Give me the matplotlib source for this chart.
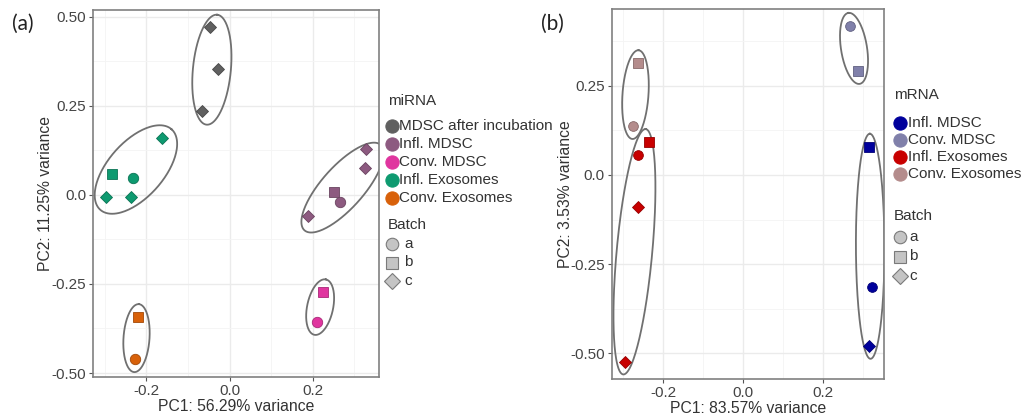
import numpy as np
import matplotlib
matplotlib.use('Agg')
import matplotlib.pyplot as plt
from matplotlib.lines import Line2D

plt.rcParams['font.family'] = ['Liberation Sans', 'DejaVu Sans']

# ---- data (a) miRNA ----
mi_groups = ['MDSC after incubation', 'Infl. MDSC', 'Conv. MDSC', 'Infl. Exosomes', 'Conv. Exosomes']
mi_colors = ['#606060', '#8d5a80', '#e0359f', '#0e9a70', '#d8610a']
mi_group = [0, 0, 0,
            3, 3, 3, 3, 3,
            1, 1, 1, 1, 1,
            2, 2,
            4, 4]
mi_batch = ['c', 'c', 'c',
            'c', 'b', 'a', 'c', 'c',
            'c', 'c', 'b', 'a', 'c',
            'b', 'a',
            'b', 'a']
mi_pc1 = [-0.047, -0.028, -0.066,
          -0.162, -0.282, -0.232, -0.297, -0.237,
          0.328, 0.326, 0.251, 0.266, 0.189,
          0.225, 0.210,
          -0.220, -0.227]
mi_pc2 = [0.471, 0.353, 0.235,
          0.159, 0.058, 0.047, -0.007, -0.007,
          0.128, 0.075, 0.008, -0.020, -0.060,
          -0.273, -0.357,
          -0.343, -0.461]

# ---- data (b) mRNA ----
m_groups = ['Infl. MDSC', 'Conv. MDSC', 'Infl. Exosomes', 'Conv. Exosomes']
m_colors = ['#00009c', '#8080aa', '#c80000', '#b48c8c']
m_group = [3, 3,
           2, 2, 2, 2,
           1, 1,
           0, 0, 0]
m_batch = ['b', 'a',
           'b', 'a', 'c', 'c',
           'a', 'b',
           'b', 'a', 'c']
m_pc1 = [-0.264, -0.275,
         -0.235, -0.262, -0.262, -0.296,
         0.268, 0.286,
         0.315, 0.321, 0.315]
m_pc2 = [0.313, 0.137,
         0.091, 0.056, -0.091, -0.523,
         0.418, 0.291,
         0.079, -0.313, -0.479]

batches = ['a', 'b', 'c']
shape = {'a': 'o', 'b': 's', 'c': 'D'}

W, H = 1032, 420
fig = plt.figure(figsize=(W / 100, H / 100), dpi=100)
TXT = '#333333'


def darker(c, f=0.75):
    r, g, b, _ = matplotlib.colors.to_rgba(c)
    return (r * f, g * f, b * f)


def fx(px):
    return px / W


def fy(py):
    return 1 - py / H


def style_axes(ax, xlim, ylim, yticks, ylabels, xlabel, ylabel, ylab_x):
    ax.set_xlim(xlim)
    ax.set_ylim(ylim)
    ax.set_xticks([-0.2, 0.0, 0.2])
    ax.set_xticklabels(['-0.2', '0.0', '0.2'])
    ax.set_yticks(yticks)
    ax.set_yticklabels(ylabels)
    ax.set_xticks([-0.3, -0.1, 0.1, 0.3], minor=True)
    ax.set_yticks([-0.375, -0.125, 0.125, 0.375], minor=True)
    ax.grid(True, which='major', color='#ebebeb', lw=1.0)
    ax.grid(True, which='minor', color='#f4f4f4', lw=0.6)
    ax.tick_params(which='minor', length=0)
    ax.tick_params(which='major', length=3, color='#555555', labelcolor='#444444',
                   labelsize=11, pad=2)
    ax.set_axisbelow(True)
    for s in ax.spines.values():
        s.set_color('#808080')
        s.set_linewidth(1.2)
    ax.set_xlabel(xlabel, fontsize=11.3, color=TXT, labelpad=1)
    ax.set_ylabel(ylabel, fontsize=11.3, color=TXT)
    ax.yaxis.set_label_coords(ylab_x, 0.5)


def ellipse(ax, xs, ys, pad_major=13, pad_minor=13, min_minor=13):
    pts = ax.transData.transform(np.column_stack([xs, ys]))
    c0 = pts.mean(axis=0)
    d = pts - c0
    w, v = np.linalg.eigh(d.T @ d)
    u = v[:, np.argmax(w)]
    n = np.array([-u[1], u[0]])
    pu = d @ u
    pn = d @ n
    cen = c0 + u * (pu.max() + pu.min()) / 2 + n * (pn.max() + pn.min()) / 2
    a = (pu.max() - pu.min()) / 2 + pad_major
    b = max((pn.max() - pn.min()) / 2 + pad_minor, min_minor)
    t = np.linspace(0, 2 * np.pi, 200)
    curve = cen + np.outer(a * np.cos(t), u) + np.outer(b * np.sin(t), n)
    data = ax.transData.inverted().transform(curve)
    ax.plot(data[:, 0], data[:, 1], color='#707070', lw=1.3, zorder=2)


def draw(ax, pc1, pc2, grp, bat, colors, ngroups, msize):
    pc1 = np.array(pc1)
    pc2 = np.array(pc2)
    grp = np.array(grp)
    bat = np.array(bat)
    for g in range(ngroups):
        sel = grp == g
        ellipse(ax, pc1[sel], pc2[sel])
    for g in range(ngroups):
        for b in batches:
            sel = (grp == g) & (bat == b)
            if sel.any():
                ax.plot(pc1[sel], pc2[sel], ls='none', marker=shape[b], ms=msize[b],
                        mfc=colors[g], mec=darker(colors[g]), mew=0.6, zorder=3)


def key(px, py, marker, ms, fc, ec, mew=0.8):
    fig.add_artist(Line2D([fx(px)], [fy(py)], transform=fig.transFigure, ls='none',
                          marker=marker, ms=ms, mfc=fc, mec=ec, mew=mew))


def add_legends(title, groups, colors, tx, ty, kx, ky0, kdy, textx, by, bky0, bkdy, btextx):
    fig.text(fx(tx), fy(ty), title, fontsize=11, color=TXT, va='center', ha='left')
    for i, (g, c) in enumerate(zip(groups, colors)):
        y = ky0 + i * kdy
        key(kx, y, 'o', 9.5, c, c)
        fig.text(fx(textx), fy(y), g, fontsize=11, color=TXT, va='center', ha='left')
    fig.text(fx(tx), fy(by), 'Batch', fontsize=11, color=TXT, va='center', ha='left')
    for i, b in enumerate(batches):
        y = bky0 + i * bkdy
        key(kx, y, shape[b], 9 if b != 'c' else 8, '#c4c4c4', '#7a7a7a')
        fig.text(fx(btextx), fy(y), b, fontsize=11, color=TXT, va='center', ha='left')


# panel (a)
ax1 = fig.add_axes([0.0901, 0.1025, 0.2772, 0.8737])
style_axes(ax1, (-0.328, 0.359), (-0.511, 0.519), [0.5, 0.25, 0.0, -0.25, -0.5],
           ['0.50', '0.25', '0.0', '-0.25', '-0.50'],
           'PC1: 56.29% variance', 'PC2: 11.25% variance', -0.14)
draw(ax1, mi_pc1, mi_pc2, mi_group, mi_batch, mi_colors, len(mi_groups),
     {'a': 7.5, 'b': 7.0, 'c': 6.5})
add_legends('miRNA', mi_groups, mi_colors, 388, 101, 392, 126, 18, 399,
            225, 244, 18.5, 404)

# panel (b)
ax2 = fig.add_axes([0.5927, 0.0976, 0.2639, 0.8802])
style_axes(ax2, (-0.329, 0.352), (-0.572, 0.464), [0.25, 0.0, -0.25, -0.5],
           ['0.25', '0.0', '-0.25', '-0.50'],
           'PC1: 83.57% variance', 'PC2: 3.53% variance', -0.142)
draw(ax2, m_pc1, m_pc2, m_group, m_batch, m_colors, len(m_groups),
     {'a': 7.0, 'b': 6.5, 'c': 6.0})
add_legends('mRNA', m_groups, m_colors, 894, 95, 900, 123, 17, 908,
            216, 237, 19.5, 909)

fig.text(fx(12), fy(24), '(a)', fontsize=15, family=['Lato', 'DejaVu Sans'],
         color='#222222', va='center')
fig.text(fx(541), fy(24), '(b)', fontsize=15, family=['Lato', 'DejaVu Sans'],
         color='#222222', va='center')

fig.savefig('out.png', dpi=100)
